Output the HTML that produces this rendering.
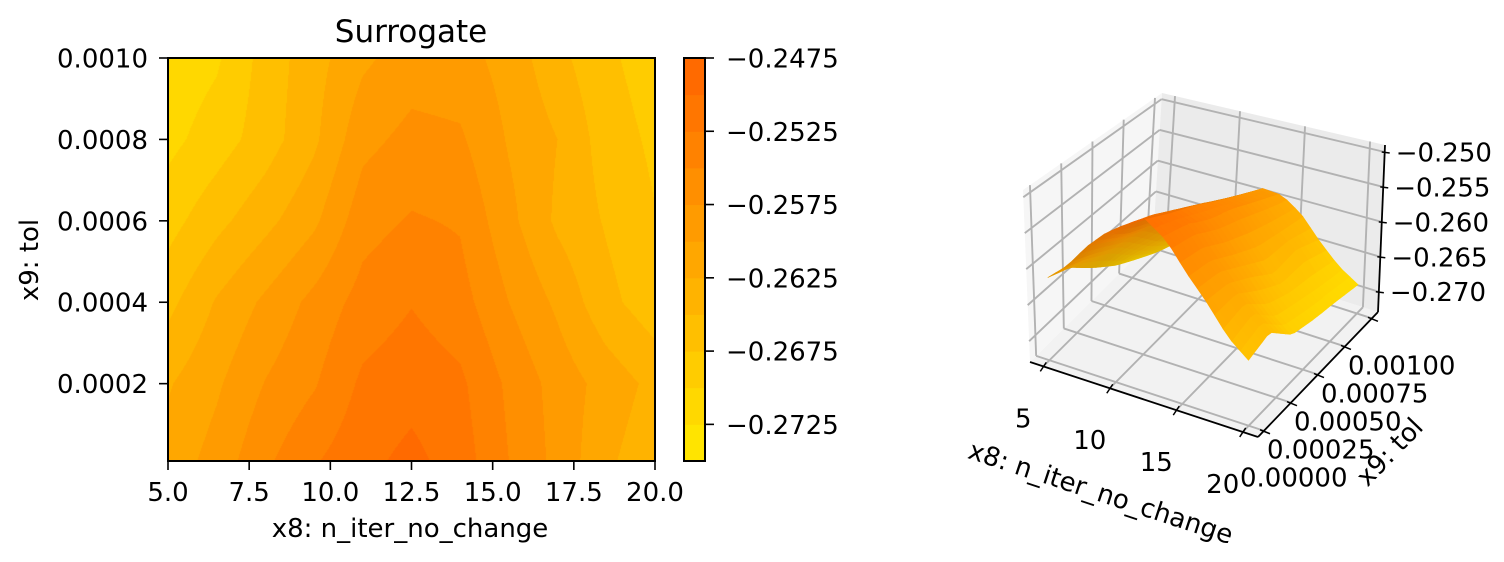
<!DOCTYPE html>
<html><head><meta charset="utf-8"><style>
html,body{margin:0;padding:0;background:#fff;width:1504px;height:562px;overflow:hidden}
#root{position:relative;width:1504px;height:562px}
svg{position:absolute;left:0;top:0}
text{font-family:"DejaVu Sans","Liberation Sans",sans-serif;fill:#000}
#contour{position:absolute;left:168px;top:58px}
</style></head><body>
<div id="root">
<canvas id="contour" width="487" height="403"></canvas>
<svg id="svg" width="1504" height="562" xmlns="http://www.w3.org/2000/svg"></svg>
</div>
<script>
// ---- data ----
const xsVals = [5, 6.5, 8, 9.5, 11, 12.5, 14, 15.5, 17, 18.5, 20];
const ysVals = [0.00001, 0.0002, 0.0004, 0.0006, 0.0008, 0.001];
const zRow0 = [-0.2615, -0.259, -0.2555, -0.25275, -0.25075, -0.24925, -0.25125, -0.255, -0.25825, -0.262, -0.26425];
const zRow1 = [-0.26275, -0.26038, -0.25738, -0.25525, -0.252, -0.251, -0.252, -0.2555, -0.2585, -0.261, -0.26325];
const zRow2 = [-0.26575, -0.26225, -0.2595, -0.25675, -0.254, -0.25263, -0.254, -0.2575, -0.2605, -0.26425, -0.2665];
const zRow3 = [-0.2685, -0.26575, -0.26325, -0.2605, -0.256, -0.25475, -0.25525, -0.25925, -0.263, -0.26525, -0.26738];
const zRow4 = [-0.27075, -0.26875, -0.26625, -0.263, -0.25825, -0.25675, -0.25713, -0.26025, -0.2625, -0.26625, -0.268];
const zRow5 = [-0.27175, -0.27038, -0.2665, -0.2635, -0.2605, -0.25875, -0.259, -0.261, -0.26425, -0.267, -0.26875];
const levels = [-0.275,-0.2725,-0.27,-0.2675,-0.265,-0.2625,-0.26,-0.2575,-0.255,-0.2525,-0.25,-0.2475];
const xTicks = [5, 7.5, 10, 12.5, 15, 17.5, 20];
const xTickLabels = ["5.0","7.5","10.0","12.5","15.0","17.5","20.0"];
const yTicks = [0.0002, 0.0004, 0.0006, 0.0008, 0.001];
const yTickLabels = ["0.0002","0.0004","0.0006","0.0008","0.0010"];
const cbTicks = [-0.2725,-0.2675,-0.2625,-0.2575,-0.2525,-0.2475];
const cbTickLabels = ["\u22120.2725","\u22120.2675","\u22120.2625","\u22120.2575","\u22120.2525","\u22120.2475"];
const x3Ticks = [5,10,15,20];
const x3TickLabels = ["5","10","15","20"];
const y3Ticks = [0,0.00025,0.0005,0.00075,0.001];
const y3TickLabels = ["0.00000","0.00025","0.00050","0.00075","0.00100"];
const z3Ticks = [-0.27,-0.265,-0.26,-0.255,-0.25];
const z3TickLabels = ["\u22120.270","\u22120.265","\u22120.260","\u22120.255","\u22120.250"];

const Z = [zRow0,zRow1,zRow2,zRow3,zRow4,zRow5];
const NS="http://www.w3.org/2000/svg";
const svg=document.getElementById('svg');
function el(tag,attrs,parent){const e=document.createElementNS(NS,tag);for(const k in attrs)e.setAttribute(k,attrs[k]);(parent||svg).appendChild(e);return e;}
function txt(s,attrs,parent){const e=el('text',attrs,parent);e.textContent=s;return e;}

function findIdx(arr,v){let i=0;while(i<arr.length-2&&v>arr[i+1])i++;return i;}
function interp(x,y){
  const i=findIdx(xsVals,x), j=findIdx(ysVals,y);
  let tx=(x-xsVals[i])/(xsVals[i+1]-xsVals[i]); let ty=(y-ysVals[j])/(ysVals[j+1]-ysVals[j]);
  tx=Math.max(0,Math.min(1,tx)); ty=Math.max(0,Math.min(1,ty));
  return Z[j][i]*(1-tx)*(1-ty)+Z[j][i+1]*tx*(1-ty)+Z[j+1][i]*(1-tx)*ty+Z[j+1][i+1]*tx*ty;
}
function cmap(t){t=Math.max(0,Math.min(1,t));return [255,Math.round(228-122*t),0];}
function bandColor(k){const c=cmap(k/(levels.length-2));return 'rgb('+c[0]+','+c[1]+','+c[2]+')';}

// ---- left axes ----
const L={x0:168,x1:655,y0:58,y1:461};
const xMin=5,xMax=20,yMin=ysVals[0],yMax=0.001;
const sx=v=>L.x0+(v-xMin)/(xMax-xMin)*(L.x1-L.x0);
const sy=v=>L.y1-(v-yMin)/(yMax-yMin)*(L.y1-L.y0);

const cv=document.getElementById('contour');const ctx=cv.getContext('2d');
const img=ctx.createImageData(487,403);
for(let py=0;py<403;py++){for(let px=0;px<487;px++){
  const xv=xMin+(px+0.5)/487*(xMax-xMin); const yv=yMax-(py+0.5)/403*(yMax-yMin);
  const z=interp(xv,yv);
  let k=0;while(k<levels.length-2&&z>=levels[k+1])k++;
  const c=cmap(k/(levels.length-2));const o=(py*487+px)*4;
  img.data[o]=c[0];img.data[o+1]=c[1];img.data[o+2]=c[2];img.data[o+3]=255;}}
ctx.putImageData(img,0,0);

el('rect',{x:L.x0,y:L.y0,width:L.x1-L.x0,height:L.y1-L.y0,fill:'none',stroke:'#000','stroke-width':2,});
xTicks.forEach((t,i)=>{const g=el('g',{});
  el('line',{x1:sx(t),x2:sx(t),y1:L.y1,y2:L.y1+9,stroke:'#000','stroke-width':1.6},g);
  txt(xTickLabels[i],{x:sx(t),y:501,'font-size':26,'text-anchor':'middle'},g);});
yTicks.forEach((t,i)=>{const g=el('g',{});
  el('line',{x1:L.x0-9,x2:L.x0,y1:sy(t),y2:sy(t),stroke:'#000','stroke-width':1.6},g);
  txt(yTickLabels[i],{x:148,y:sy(t)+9.5,'font-size':26,'text-anchor':'end'},g);});
txt('x8: n_iter_no_change',{x:410,y:537,'font-size':26,'text-anchor':'middle',});
txt('x9: tol',{x:0,y:0,'font-size':26,'text-anchor':'middle',transform:'translate(38,260) rotate(-90)',});
txt('Surrogate',{x:411,y:42,'font-size':31,'text-anchor':'middle',});

const CB={x0:684,x1:705,y0:58,y1:461};
const cbY=v=>CB.y1-(v-levels[0])/(levels[levels.length-1]-levels[0])*(CB.y1-CB.y0);
for(let k=0;k<levels.length-1;k++){
  const r=el('rect',{x:CB.x0,y:cbY(levels[k+1]),width:CB.x1-CB.x0,height:cbY(levels[k])-cbY(levels[k+1])+0.5,fill:bandColor(k)});
  
  
}
el('rect',{x:CB.x0,y:CB.y0,width:CB.x1-CB.x0,height:CB.y1-CB.y0,fill:'none',stroke:'#000','stroke-width':2,});
cbTicks.forEach((t,i)=>{const g=el('g',{});
  el('line',{x1:CB.x1,x2:CB.x1+9,y1:cbY(t),y2:cbY(t),stroke:'#000','stroke-width':1.6},g);
  txt(cbTickLabels[i],{x:726,y:cbY(t)+9.5,'font-size':26},g);});

// ---- 3D axes ----
const xlo=4.0,xhi=21.15,ylo=-0.0000556,yhi=0.001056,zlo=-0.2729,zhi=-0.249;
const FA=[1030,362],FB=[1258,437],FC=[1378,312],FD=[1153,240];
const TA=[1023,190],TB=[1254,258],TC=[1385,145],TD=[1162,93];
function bil(a,b,c,d,u,v){return [a[0]*(1-u)*(1-v)+b[0]*u*(1-v)+c[0]*u*v+d[0]*(1-u)*v, a[1]*(1-u)*(1-v)+b[1]*u*(1-v)+c[1]*u*v+d[1]*(1-u)*v];}
function P(x,y,z){const u=(x-xlo)/(xhi-xlo),v=(y-ylo)/(yhi-ylo),w=(z-zlo)/(zhi-zlo);
  const f=bil(FA,FB,FC,FD,u,v),t=bil(TA,TB,TC,TD,u,v);return [f[0]+w*(t[0]-f[0]),f[1]+w*(t[1]-f[1])];}
const pts=a=>a.map(p=>p[0].toFixed(1)+','+p[1].toFixed(1)).join(' ');
const g3=el('g',{});
el('polygon',{points:pts([P(xlo,ylo,zlo),P(xhi,ylo,zlo),P(xhi,yhi,zlo),P(xlo,yhi,zlo)]),fill:'#f2f2f2',},g3);
el('polygon',{points:pts([P(xlo,ylo,zlo),P(xlo,yhi,zlo),P(xlo,yhi,zhi),P(xlo,ylo,zhi)]),fill:'#f6f6f6',},g3);
el('polygon',{points:pts([P(xlo,yhi,zlo),P(xhi,yhi,zlo),P(xhi,yhi,zhi),P(xlo,yhi,zhi)]),fill:'#ebebeb',},g3);
const gs={stroke:'#b2b2b2','stroke-width':1.9,fill:'none'};
function gl(a,b){const l=el('line',Object.assign({x1:a[0],y1:a[1],x2:b[0],y2:b[1]},gs),g3);}
x3Ticks.forEach(t=>{gl(P(t,ylo,zlo),P(t,yhi,zlo));gl(P(t,yhi,zlo),P(t,yhi,zhi));});
y3Ticks.forEach(t=>{gl(P(xlo,t,zlo),P(xhi,t,zlo));gl(P(xlo,t,zlo),P(xlo,t,zhi));});
z3Ticks.forEach(t=>{gl(P(xlo,ylo,t),P(xlo,yhi,t));gl(P(xlo,yhi,t),P(xhi,yhi,t));});

const N=24, quads=[];
const zs=[].concat(...Z); const zmn=Math.min(...zs), zmx=Math.max(...zs);
for(let i=0;i<N;i++)for(let j=0;j<N;j++){
  const xa=xsVals[0]+(xsVals[xsVals.length-1]-xsVals[0])*i/N, xb=xsVals[0]+(xsVals[xsVals.length-1]-xsVals[0])*(i+1)/N;
  const ya=ysVals[0]+(ysVals[ysVals.length-1]-ysVals[0])*j/N, yb=ysVals[0]+(ysVals[ysVals.length-1]-ysVals[0])*(j+1)/N;
  const z00=interp(xa,ya),z10=interp(xb,ya),z11=interp(xb,yb),z01=interp(xa,yb);
  const zm=(z00+z10+z11+z01)/4;
  const u=((xa+xb)/2-xlo)/(xhi-xlo), v=((ya+yb)/2-ylo)/(yhi-ylo), w=(zm-zlo)/(zhi-zlo);
  const depth=0.433*u-0.75*v+0.5*w;
  const dzdx=((z10+z11)-(z00+z01))/2/(zhi-zlo)/(1/N), dzdy=((z01+z11)-(z00+z10))/2/(zhi-zlo)/(1/N);
  let shade=1-0.08*Math.max(-1.5,Math.min(1.5,dzdx))+0.05*dzdy;
  shade=Math.max(0.82,Math.min(1.05,shade));
  quads.push({p:[P(xa,ya,z00),P(xb,ya,z10),P(xb,yb,z11),P(xa,yb,z01)],t:(zm-zmn)/(zmx-zmn),depth,shade});
}
quads.sort((a,b)=>a.depth-b.depth);
const gsurf=el('g',{},g3);
quads.forEach(q=>{const c=cmap(q.t);const col='rgb('+Math.min(255,Math.round(c[0]*q.shade))+','+Math.min(255,Math.round(c[1]*q.shade))+','+Math.round(c[2])+')';
  const pg=el('polygon',{points:pts(q.p),fill:col,stroke:col,'stroke-width':0.6},gsurf);
  
  });

const ax={stroke:'#000','stroke-width':1.8};
const xa3=P(xlo,ylo,zlo),xb3=P(xhi,ylo,zlo),yb3=P(xhi,yhi,zlo),zt3=P(xhi,yhi,zhi);
el('line',Object.assign({x1:xa3[0],y1:xa3[1],x2:xb3[0],y2:xb3[1],},ax));
el('line',Object.assign({x1:xb3[0],y1:xb3[1],x2:yb3[0],y2:yb3[1],},ax));
el('line',Object.assign({x1:yb3[0],y1:yb3[1],x2:zt3[0],y2:zt3[1],},ax));
x3Ticks.forEach((t,i)=>{const p=P(t,ylo,zlo);const g=el('g',{});
  el('line',{x1:p[0]+3,y1:p[1]-4,x2:p[0]-3,y2:p[1]+5,stroke:'#000','stroke-width':1.5},g);
  txt(x3TickLabels[i],{x:p[0]-20,y:p[1]+61,'font-size':26,'text-anchor':'middle'},g);});
y3Ticks.forEach((t,i)=>{const p=P(xhi,t,zlo);const g=el('g',{});
  el('line',{x1:p[0]-4,y1:p[1]-1,x2:p[0]+6,y2:p[1]+3,stroke:'#000','stroke-width':1.5},g);
  txt(y3TickLabels[i],{x:p[0]-24,y:p[1]+56,'font-size':26},g);});
z3Ticks.forEach((t,i)=>{const p=P(xhi,yhi,t);const g=el('g',{});
  el('line',{x1:p[0]-3,y1:p[1],x2:p[0]+5,y2:p[1]+1,stroke:'#000','stroke-width':1.5},g);
  txt(z3TickLabels[i],{x:p[0]+11,y:p[1]+9.5,'font-size':26},g);});
txt('x8: n_iter_no_change',{x:0,y:0,'font-size':26,'text-anchor':'middle',transform:'translate(1098,501) rotate(18.2)',});
txt('x9: tol',{x:0,y:0,'font-size':26,'text-anchor':'middle',transform:'translate(1396,458) rotate(-46)',});
</script>
</body></html>
